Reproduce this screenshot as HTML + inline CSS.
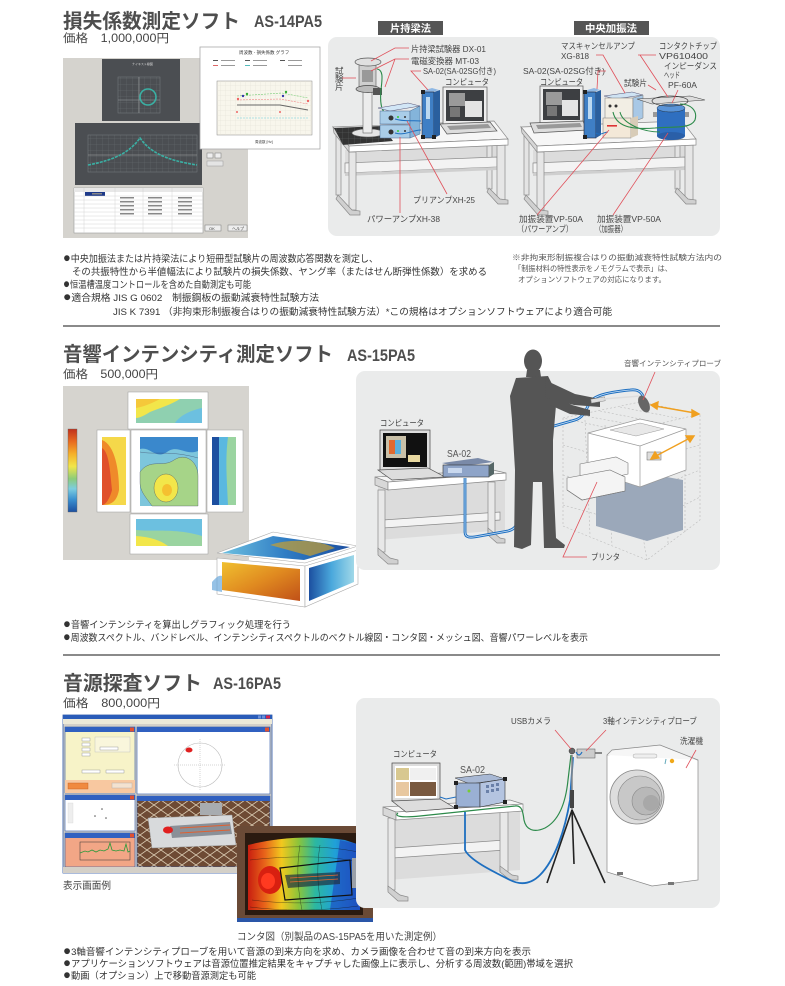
<!DOCTYPE html>
<html><head><meta charset="utf-8">
<style>
html,body{margin:0;padding:0;background:#fff;}
svg{display:block;}
text{font-family:"Liberation Sans","Noto Sans CJK JP",sans-serif;fill:#3a3a3a;}
.t{font-weight:bold;fill:#4e4e4e;font-size:20px;}
.m{font-family:"Liberation Sans Narrow","Liberation Sans",sans-serif;font-weight:bold;fill:#4e4e4e;font-size:17px;}
.p{font-size:11.5px;fill:#444;}
.b{font-size:9.5px;fill:#333;}
.bb{font-size:13.5px;}
.l{font-size:8.5px;fill:#444;}
.s{font-size:7.5px;fill:#555;}
.tab{font-size:10px;fill:#fff;font-weight:bold;}
.r{stroke:#e0505a;stroke-width:0.8;fill:none;}
.d{stroke:#8a8a8a;stroke-width:0.7;}
</style></head><body>
<svg width="785" height="986" viewBox="0 0 785 986" xmlns="http://www.w3.org/2000/svg">
<defs>
<linearGradient id="cb" x1="0" y1="0" x2="0" y2="1">
<stop offset="0" stop-color="#c0301c"/><stop offset=".15" stop-color="#e86a20"/><stop offset=".3" stop-color="#f5b02a"/><stop offset=".45" stop-color="#f2e64a"/><stop offset=".6" stop-color="#8ccc7a"/><stop offset=".72" stop-color="#7ccde0"/><stop offset=".85" stop-color="#3a90d0"/><stop offset="1" stop-color="#1c4fa0"/>
</linearGradient>
<linearGradient id="hb" x1="0" y1="0" x2="1" y2="0">
<stop offset="0" stop-color="#c81e10"/><stop offset=".15" stop-color="#e8641a"/><stop offset=".3" stop-color="#f2c81e"/><stop offset=".45" stop-color="#8cc43a"/><stop offset=".6" stop-color="#2cb8a0"/><stop offset=".78" stop-color="#20a0d8"/><stop offset="1" stop-color="#1e50c0"/>
</linearGradient>
<linearGradient id="ff" x1="0" y1="0" x2="1" y2="1">
<stop offset="0" stop-color="#f0c030"/><stop offset=".5" stop-color="#e08a20"/><stop offset="1" stop-color="#c05018"/>
</linearGradient>
<linearGradient id="tf" x1="0" y1="0" x2="1" y2="0">
<stop offset="0" stop-color="#6cc0e0"/><stop offset=".5" stop-color="#2f7cc4"/><stop offset="1" stop-color="#1c4fa0"/>
</linearGradient>
<linearGradient id="rf" x1="0" y1="0" x2="1" y2="0">
<stop offset="0" stop-color="#1c4fa0"/><stop offset=".5" stop-color="#4aa8dc"/><stop offset="1" stop-color="#a0d8e8"/>
</linearGradient>
<pattern id="gr" width="6" height="6" patternUnits="userSpaceOnUse"><path d="M6,0 L0,0 0,6" fill="none" stroke="#6a6d70" stroke-width="0.5"/></pattern>
<pattern id="gw" width="5" height="5" patternUnits="userSpaceOnUse"><path d="M5,0 L0,0 0,5" fill="none" stroke="#e2dfd2" stroke-width="0.5"/></pattern>
<pattern id="bp" width="14" height="10" patternUnits="userSpaceOnUse"><rect width="14" height="10" fill="#6e4a34"/><path d="M0,5 L7,0 L14,5 L7,10 Z" fill="none" stroke="#d8c8b0" stroke-width="0.8"/></pattern>
</defs>

<!-- ================= SECTION 1 ================= -->
<text class="t" x="63" y="28" textLength="177" lengthAdjust="spacingAndGlyphs">損失係数測定ソフト</text>
<text class="m" x="254" y="27" textLength="68" lengthAdjust="spacingAndGlyphs">AS-14PA5</text>
<text class="p" x="63" y="42" textLength="106" lengthAdjust="spacingAndGlyphs">価格　1,000,000円</text>

<!-- screenshot -->
<rect x="63" y="58" width="185" height="180" fill="#d5d3ce"/>
<rect x="102" y="59" width="78" height="62" fill="#4b4e52"/>
<rect x="118" y="77" width="42" height="36" fill="url(#gr)" stroke="#7a7d80" stroke-width="0.5"/>
<line x1="139" y1="77" x2="139" y2="113" stroke="#9a9da0" stroke-width="0.6"/>
<line x1="118" y1="100" x2="160" y2="100" stroke="#9a9da0" stroke-width="0.6"/>
<circle cx="148" cy="97" r="8" fill="none" stroke="#3ab0a4" stroke-width="1.6"/>
<text x="132" y="65" style="font-size:3px;fill:#ddd">ナイキスト線図</text>
<rect x="75" y="123" width="127" height="62" fill="#4b4e52"/>
<rect x="88" y="135" width="109" height="37" fill="url(#gr)" stroke="#7a7d80" stroke-width="0.5"/>
<line x1="88" y1="155" x2="197" y2="155" stroke="#aaa" stroke-width="0.6"/>
<path d="M88,165 C115,160 130,152 140,138 C150,152 165,160 197,165" fill="none" stroke="#3ab0a4" stroke-width="1.6" stroke-dasharray="3,1"/>
<rect x="74" y="188" width="129" height="45" fill="#fff" stroke="#999" stroke-width="0.6"/>
<rect x="74" y="188" width="129" height="4" fill="#e8e8e8"/>
<rect x="85" y="192" width="20" height="4" fill="#1e3a8a"/>
<g stroke="#ccc" stroke-width="0.4">
<line x1="74" y1="196" x2="203" y2="196"/><line x1="74" y1="200" x2="203" y2="200"/><line x1="74" y1="204" x2="203" y2="204"/><line x1="74" y1="208" x2="203" y2="208"/><line x1="74" y1="212" x2="203" y2="212"/><line x1="74" y1="216" x2="203" y2="216"/><line x1="74" y1="220" x2="203" y2="220"/><line x1="74" y1="224" x2="203" y2="224"/><line x1="74" y1="228" x2="203" y2="228"/>
<line x1="84" y1="188" x2="84" y2="233"/><line x1="115" y1="188" x2="115" y2="233"/><line x1="143" y1="188" x2="143" y2="233"/><line x1="172" y1="188" x2="172" y2="233"/>
</g>
<g fill="#888"><rect x="92" y="193" width="10" height="1.5"/><rect x="120" y="197" width="14" height="1.5"/><rect x="120" y="201" width="14" height="1.5"/><rect x="120" y="205" width="14" height="1.5"/><rect x="148" y="197" width="14" height="1.5"/><rect x="148" y="201" width="14" height="1.5"/><rect x="148" y="205" width="14" height="1.5"/><rect x="178" y="197" width="14" height="1.5"/><rect x="178" y="201" width="14" height="1.5"/><rect x="178" y="205" width="14" height="1.5"/><rect x="120" y="209" width="14" height="1.5"/><rect x="148" y="209" width="14" height="1.5"/><rect x="178" y="209" width="14" height="1.5"/><rect x="120" y="213" width="14" height="1.5"/><rect x="148" y="213" width="14" height="1.5"/><rect x="178" y="213" width="14" height="1.5"/></g>
<rect x="207" y="153" width="6" height="5" fill="#eee" stroke="#777" stroke-width="0.5"/><rect x="215" y="153" width="6" height="5" fill="#eee" stroke="#777" stroke-width="0.5"/>
<rect x="207" y="161" width="16" height="5" fill="#e4e4e4" stroke="#999" stroke-width="0.5"/>
<rect x="205" y="225" width="16" height="6" fill="#eee" stroke="#777" stroke-width="0.5"/><rect x="228" y="225" width="19" height="6" fill="#eee" stroke="#777" stroke-width="0.5"/>
<text x="209" y="230" style="font-size:4px">OK</text><text x="232" y="230" style="font-size:4px">ヘルプ</text>
<!-- graph overlay -->
<rect x="200" y="47" width="120" height="102" fill="#fff" stroke="#aaa" stroke-width="0.8"/>
<text x="239" y="54" style="font-size:4.5px;fill:#333">周波数 - 損失係数 グラフ</text>
<g fill="#555"><rect x="213" y="60" width="5" height="1"/><rect x="245" y="60" width="5" height="1"/><rect x="280" y="60" width="5" height="1"/><rect x="213" y="65" width="5" height="1" fill="#d66"/><rect x="245" y="65" width="5" height="1" fill="#5bb"/></g>
<g fill="#999"><rect x="221" y="60" width="14" height="1"/><rect x="221" y="65" width="14" height="1"/><rect x="253" y="60" width="14" height="1"/><rect x="253" y="65" width="14" height="1"/><rect x="288" y="60" width="14" height="1"/><rect x="288" y="65" width="14" height="1"/></g>
<rect x="217" y="81" width="95" height="54" fill="#f8f6ec" stroke="#888" stroke-width="0.5"/>
<rect x="217" y="81" width="95" height="54" fill="url(#gw)"/>
<path d="M237,105 L280,105 L308,110" fill="none" stroke="#666" stroke-width="1"/>
<path d="M237,100 L280,99 L308,104" fill="none" stroke="#e88" stroke-width="0.6" stroke-dasharray="2,1"/>
<path d="M237,96 L282,93 L308,98" fill="none" stroke="#7c7" stroke-width="0.6" stroke-dasharray="2,1"/>
<path d="M237,118 L308,118" fill="none" stroke="#6cd" stroke-width="0.6" stroke-dasharray="2,1"/>
<g><circle cx="243" cy="96" r="1.2" fill="#33a"/><circle cx="247" cy="94" r="1.2" fill="#3a3"/><circle cx="238" cy="99" r="1.2" fill="#e66"/><circle cx="283" cy="96" r="1.2" fill="#33a"/><circle cx="286" cy="92" r="1.2" fill="#3a3"/><circle cx="308" cy="101" r="1.2" fill="#e66"/><circle cx="237" cy="112" r="1" fill="#e66"/><circle cx="280" cy="112" r="1" fill="#e66"/></g>
<text x="255" y="143" style="font-size:3.5px">周波数 [Hz]</text>

<!-- diagram 1 -->
<rect x="328" y="37" width="392" height="199" rx="9" fill="#eaebeb"/>
<rect x="378" y="21" width="65" height="14" fill="#555"/>
<text class="tab" x="390" y="32" textLength="41" lengthAdjust="spacingAndGlyphs">片持梁法</text>
<rect x="574" y="21" width="75" height="14" fill="#555"/>
<text class="tab" x="585" y="32" textLength="52" lengthAdjust="spacingAndGlyphs">中央加振法</text>

<!-- desks -->
<g id="desk1">
<path d="M345,150 L500,144 L500,166 L345,172 Z" fill="#dcdcdc"/>
<rect x="336" y="133" width="5" height="62" fill="#e4e4e4" class="d"/>
<rect x="487" y="139" width="5" height="50" fill="#e4e4e4" class="d"/>
<path d="M345,163 L497,157 L497,167 L345,173 Z" fill="#f3f3f3" class="d"/>
<path d="M345,173 L497,167 L497,170 L345,176 Z" fill="#cfcfcf"/>
<rect x="349" y="152" width="7" height="58" fill="#e6e6e6" class="d"/>
<path d="M338,195 L352,210 L360,211 L360,215 L350,215 L336,199 Z" fill="#d0d0d0" class="d"/>
<rect x="497" y="145" width="8" height="55" fill="#e6e6e6" class="d"/>
<path d="M489,188 L500,199 L508,200 L508,204 L498,204 L487,192 Z" fill="#d0d0d0" class="d"/>
<path d="M333,127 L494,121 L508,139 L349,146 Z" fill="#f6f6f6" class="d"/>
<path d="M349,146 L508,139 L508,145 L349,152 Z" fill="#fff" class="d"/>
<path d="M333,127 L349,146 L349,152 L334,133 Z" fill="#d6d6d6" class="d"/>
</g>
<use href="#desk1" transform="translate(188,0)"/>

<!-- left devices -->
<path d="M334,128 L382,126 L393,141 L343,145 Z" fill="#333"/>
<path d="M334,128 L382,126 L393,141 L343,145 Z" fill="url(#gr)" opacity=".8"/>
<ellipse cx="368" cy="133" rx="16" ry="4" fill="#e4e4e4" stroke="#666" stroke-width="0.6"/>
<rect x="363" y="92" width="9" height="41" fill="#ececec" stroke="#666" stroke-width="0.6"/>
<rect x="359" y="63" width="17" height="28" fill="#cfcfcf" stroke="#555" stroke-width="0.6"/>
<rect x="362" y="70" width="11" height="12" fill="#999"/>
<ellipse cx="368" cy="62" rx="13" ry="4" fill="#e0e0e0" stroke="#555" stroke-width="0.7"/>
<ellipse cx="368" cy="89" rx="12" ry="3.5" fill="#bbb" stroke="#444" stroke-width="0.7"/>
<rect x="373" y="88" width="9" height="7" fill="#555"/>
<path d="M377,69 C384,70 382,80 381,90 C380,100 381,108 384,112" fill="none" stroke="#2c8a4a" stroke-width="1.1"/>
<!-- amps -->
<path d="M378,108 L408,103 L420,106 L390,111 Z" fill="#d2e6f6" stroke="#557" stroke-width="0.5"/>
<rect x="380" y="111" width="30" height="13" fill="#a9cde8" stroke="#4a6a90" stroke-width="0.5"/>
<rect x="380" y="125" width="30" height="13" fill="#a9cde8" stroke="#4a6a90" stroke-width="0.5"/>
<path d="M410,111 L420,106 L420,134 L410,138 Z" fill="#84b4da" stroke="#4a6a90" stroke-width="0.5"/>
<circle cx="391" cy="118" r="2.5" fill="#333"/><circle cx="391" cy="132" r="2.5" fill="#333"/>
<circle cx="398" cy="117" r="1" fill="#3c3"/><circle cx="398" cy="131" r="1" fill="#3c3"/>
<circle cx="405" cy="117" r="1" fill="#333"/><circle cx="405" cy="131" r="1" fill="#333"/>
<path d="M395,119 C405,122 412,120 421,121" fill="none" stroke="#1e6fc0" stroke-width="1"/>
<path d="M395,133 C405,136 412,130 421,130" fill="none" stroke="#1e6fc0" stroke-width="1"/>
<!-- SA-02 -->
<path d="M422,91 L432,88 L439,90 L429,93 Z" fill="#8fb8e4"/>
<rect x="422" y="92" width="12" height="46" fill="#3f7fc5" stroke="#223" stroke-width="0.6"/>
<path d="M434,92 L440,90 L440,135 L434,138 Z" fill="#2a5f9e"/>
<rect x="426" y="97" width="4" height="22" fill="#bcd8f0"/>
<rect x="421" y="90" width="4" height="4" fill="#222"/><rect x="421" y="135" width="4" height="4" fill="#222"/><rect x="432" y="135" width="4" height="4" fill="#222"/>
<!-- laptop left -->
<rect x="443" y="87" width="44" height="37" fill="#eee" stroke="#555" stroke-width="0.7"/>
<rect x="446" y="90" width="38" height="31" fill="#3d3f42"/>
<rect x="449" y="93" width="16" height="13" fill="#9a9a9a"/>
<rect x="450" y="107" width="10" height="10" fill="#777"/>
<rect x="465" y="101" width="17" height="16" fill="#e4e4e4"/>
<path d="M440,124 L490,122 L497,131 L447,134 Z" fill="#ddd" stroke="#555" stroke-width="0.7"/>
<path d="M447,126 L488,124 L491,128 L450,130 Z" fill="#999"/>

<!-- right devices -->
<rect x="540" y="86" width="43" height="37" fill="#eee" stroke="#555" stroke-width="0.7"/>
<rect x="543" y="89" width="37" height="31" fill="#3d3f42"/>
<rect x="546" y="92" width="16" height="13" fill="#9a9a9a"/>
<rect x="547" y="106" width="10" height="10" fill="#777"/>
<rect x="562" y="100" width="16" height="16" fill="#e4e4e4"/>
<path d="M530,123 L583,121 L587,130 L534,133 Z" fill="#ddd" stroke="#555" stroke-width="0.7"/>
<path d="M536,125 L580,123 L582,127 L538,129 Z" fill="#999"/>
<path d="M584,91 L594,88 L600,90 L590,93 Z" fill="#8fb8e4"/>
<rect x="584" y="92" width="12" height="46" fill="#3f7fc5" stroke="#223" stroke-width="0.6"/>
<path d="M596,92 L601,90 L601,135 L596,138 Z" fill="#2a5f9e"/>
<rect x="588" y="97" width="4" height="22" fill="#bcd8f0"/>
<rect x="583" y="90" width="4" height="4" fill="#222"/><rect x="583" y="135" width="4" height="4" fill="#222"/>
<path d="M604,96 L632,92 L643,95 L615,99 Z" fill="#cfe3f3" stroke="#557" stroke-width="0.5"/>
<rect x="605" y="98" width="28" height="24" fill="#f2eee4" stroke="#777" stroke-width="0.5"/>
<path d="M633,98 L643,95 L643,118 L633,122 Z" fill="#a8c8e6" stroke="#777" stroke-width="0.5"/>
<circle cx="610" cy="106" r="1.5" fill="#333"/><circle cx="616" cy="106" r="1.5" fill="#333"/>
<rect x="603" y="118" width="28" height="20" fill="#f3e8d8" stroke="#777" stroke-width="0.5"/>
<rect x="607" y="125" width="10" height="1.6" fill="#d33"/>
<path d="M631,118 L638,116 L638,135 L631,138 Z" fill="#d8ccb8"/>
<!-- exciter -->
<rect x="657" y="108" width="28" height="28" fill="#2f6fc0"/>
<ellipse cx="671" cy="136" rx="14" ry="4" fill="#2a5fa8"/>
<ellipse cx="671" cy="108" rx="14" ry="4" fill="#5a94d8" stroke="#234" stroke-width="0.5"/>
<rect x="653" y="112" width="4" height="5" fill="#999"/><rect x="685" y="112" width="4" height="5" fill="#999"/>
<path d="M637,99 L690,96 L705,100 L652,104 Z" fill="#ddd" stroke="#444" stroke-width="0.6"/>
<ellipse cx="670" cy="101" rx="18" ry="5" fill="none" stroke="#333" stroke-width="0.7"/>
<path d="M613,112 C616,126 630,130 655,128 C670,126 690,130 695,120 C698,110 690,104 680,104" fill="none" stroke="#2c8a4a" stroke-width="1.1"/>
<path d="M620,112 C622,122 640,132 660,132" fill="none" stroke="#2c8a4a" stroke-width="1"/>
<path d="M596,133 C600,136 604,132 608,132" fill="none" stroke="#1e6fc0" stroke-width="1"/>

<!-- labels diagram 1 -->
<text class="l" x="411" y="52" textLength="75" lengthAdjust="spacingAndGlyphs">片持梁試験器 DX-01</text>
<text class="l" x="411" y="64" textLength="68" lengthAdjust="spacingAndGlyphs">電磁変換器 MT-03</text>
<text class="l" x="423" y="74" textLength="73" lengthAdjust="spacingAndGlyphs">SA-02(SA-02SG付き)</text>
<text class="l" x="445" y="85" textLength="44" lengthAdjust="spacingAndGlyphs">コンピュータ</text>
<text class="l" x="335" y="74">試</text><text class="l" x="335" y="82">験</text><text class="l" x="335" y="90">片</text>
<text class="l" x="413" y="203" textLength="62" lengthAdjust="spacingAndGlyphs">プリアンプXH-25</text>
<text class="l" x="367" y="222" textLength="73" lengthAdjust="spacingAndGlyphs">パワーアンプXH-38</text>
<text class="l" x="561" y="49" textLength="74" lengthAdjust="spacingAndGlyphs">マスキャンセルアンプ</text>
<text class="l" x="561" y="59" textLength="28" lengthAdjust="spacingAndGlyphs">XG-818</text>
<text class="l" x="659" y="49" textLength="58" lengthAdjust="spacingAndGlyphs">コンタクトチップ</text>
<text class="l" x="659" y="59" textLength="49" lengthAdjust="spacingAndGlyphs">VP610400</text>
<text class="l" x="664" y="69" textLength="53" lengthAdjust="spacingAndGlyphs">インピーダンス</text>
<text class="l" x="664" y="78" textLength="16" lengthAdjust="spacingAndGlyphs">ヘッド</text>
<text class="l" x="668" y="88" textLength="29" lengthAdjust="spacingAndGlyphs">PF-60A</text>
<text class="l" x="523" y="74" textLength="82" lengthAdjust="spacingAndGlyphs">SA-02(SA-02SG付き)</text>
<text class="l" x="540" y="85" textLength="43" lengthAdjust="spacingAndGlyphs">コンピュータ</text>
<text class="l" x="624" y="86" textLength="23" lengthAdjust="spacingAndGlyphs">試験片</text>
<text class="l" x="519" y="222" textLength="64" lengthAdjust="spacingAndGlyphs">加振装置VP-50A</text>
<text class="l" x="517" y="232" textLength="56" lengthAdjust="spacingAndGlyphs">（パワーアンプ）</text>
<text class="l" x="597" y="222" textLength="64" lengthAdjust="spacingAndGlyphs">加振装置VP-50A</text>
<text class="l" x="595" y="232" textLength="32" lengthAdjust="spacingAndGlyphs">（加振器）</text>
<!-- leader lines 1 -->
<path class="r" d="M409,48 L395,48 L371,61"/>
<path class="r" d="M409,59 L395,59 L371,71 M395,59 L385,87"/>
<path class="r" d="M421,71 L411,71 L428,90"/>
<path class="r" d="M342,78 L356,78"/>
<path class="r" d="M447,194 L407,121"/>
<path class="r" d="M400,213 L400,137"/>
<path class="r" d="M596,55 L603,55 L625,93"/>
<path class="r" d="M638,55 L656,55 M640,55 L668,97"/>
<path class="r" d="M606,71 L598,71 L597,89"/>
<path class="r" d="M648,85 L656,90"/>
<path class="r" d="M678,90 L672,103"/>
<path class="r" d="M537,215 L609,130"/>
<path class="r" d="M613,215 L668,133"/>

<!-- bullets section 1 -->
<text class="b" x="63" y="262" textLength="315" lengthAdjust="spacingAndGlyphs"><tspan class="bb">●</tspan>中央加振法または片持梁法により短冊型試験片の周波数応答関数を測定し、</text>
<text class="b" x="72" y="275" textLength="415" lengthAdjust="spacingAndGlyphs">その共振特性から半値幅法により試験片の損失係数、ヤング率（またはせん断弾性係数）を求める</text>
<text class="b" x="63" y="288" textLength="188" lengthAdjust="spacingAndGlyphs"><tspan class="bb">●</tspan>恒温槽温度コントロールを含めた自動測定も可能</text>
<text class="b" x="63" y="301" textLength="256" lengthAdjust="spacingAndGlyphs"><tspan class="bb">●</tspan>適合規格 JIS G 0602　制振鋼板の振動減衰特性試験方法</text>
<text class="b" x="113" y="315" textLength="499" lengthAdjust="spacingAndGlyphs">JIS K 7391 （非拘束形制振複合はりの振動減衰特性試験方法）*この規格はオプションソフトウェアにより適合可能</text>
<text class="s" x="512" y="260" textLength="210" lengthAdjust="spacingAndGlyphs">※非拘束形制振複合はりの振動減衰特性試験方法内の</text>
<text class="s" x="514" y="271" textLength="158" lengthAdjust="spacingAndGlyphs">「制振材料の特性表示をノモグラムで表示」は、</text>
<text class="s" x="518" y="282" textLength="148" lengthAdjust="spacingAndGlyphs">オプションソフトウェアの対応になります。</text>

<rect x="63" y="325" width="657" height="2" fill="#8a8a8a"/>

<!-- ================= SECTION 2 ================= -->
<text class="t" x="63" y="361" textLength="270" lengthAdjust="spacingAndGlyphs">音響インテンシティ測定ソフト</text>
<text class="m" x="347" y="361" textLength="68" lengthAdjust="spacingAndGlyphs">AS-15PA5</text>
<text class="p" x="63" y="378" textLength="95" lengthAdjust="spacingAndGlyphs">価格　500,000円</text>

<!-- contour image -->
<rect x="63" y="386" width="186" height="174" fill="#d6d4cf"/>
<rect x="68" y="429" width="9" height="83" fill="url(#cb)" stroke="#666" stroke-width="0.4"/>
<rect x="128" y="392" width="80" height="37" fill="#fff" stroke="#999" stroke-width="0.5"/>
<rect x="97" y="430" width="33" height="82" fill="#fff" stroke="#999" stroke-width="0.5"/>
<rect x="131" y="430" width="75" height="83" fill="#fff" stroke="#999" stroke-width="0.5"/>
<rect x="207" y="430" width="36" height="82" fill="#fff" stroke="#999" stroke-width="0.5"/>
<rect x="130" y="514" width="78" height="40" fill="#fff" stroke="#999" stroke-width="0.5"/>
<rect x="136" y="399" width="66" height="24" fill="#8fd0b0"/>
<path d="M136,399 L180,399 C170,405 160,408 150,412 C145,415 140,418 136,418 Z" fill="#f2e64a"/>
<path d="M136,399 L160,399 C152,403 146,406 136,408 Z" fill="#f5c83a"/>
<path d="M175,423 C180,415 192,410 202,408 L202,423 Z" fill="#6cc0e0"/>
<rect x="140" y="437" width="58" height="69" fill="#7dc6dc"/>
<path d="M140,437 L198,437 L198,451 C185,456 178,444 167,452 C156,460 150,446 140,449 Z" fill="#3a88cc"/>
<path d="M140,472 C150,458 163,468 174,460 C186,452 198,462 198,476 L198,506 L152,506 C146,497 140,492 140,482 Z" fill="#a6d488" stroke="#335" stroke-width="0.3"/>
<ellipse cx="166" cy="488" rx="12" ry="14" fill="#f2e64a" stroke="#335" stroke-width="0.3"/>
<ellipse cx="167" cy="490" rx="5" ry="6" fill="#f5c030"/>
<path d="M140,452 C155,455 170,450 198,458" fill="none" stroke="#335" stroke-width="0.3"/>
<rect x="102" y="437" width="24" height="68" fill="#f5d84a"/>
<path d="M102,440 C115,445 119,470 119,490 C117,500 113,505 102,505 Z" fill="#ef8a2a"/>
<path d="M102,448 C109,452 110,470 112,490 C110,498 106,505 102,505 Z" fill="#e0502a"/>
<rect x="212" y="437" width="24" height="68" fill="#9ad4a0"/>
<rect x="212" y="437" width="7" height="68" fill="#1c4fa0"/>
<path d="M219,437 L228,437 C225,460 227,480 228,505 L219,505 Z" fill="#5ab8e0"/>
<rect x="136" y="519" width="66" height="27" fill="#6cc0e0"/>
<path d="M136,530 C155,532 175,528 202,536 L202,546 L136,546 Z" fill="#9ad4a0"/>
<path d="M136,536 C150,537 160,540 168,546 L136,546 Z" fill="#f2e64a"/>
<!-- 3D box -->
<path d="M217,553 L273,532 L358,546 L305,563 Z" fill="#fff" stroke="#aaa" stroke-width="0.6"/>
<path d="M222,553 L273,536 L350,547 L304,560 Z" fill="url(#tf)"/>
<path d="M270,545 C290,538 320,540 335,548 L310,556 Z" fill="#c8a030" opacity=".7"/>
<path d="M217,558 L305,566 L305,607 L217,594 Z" fill="#fff" stroke="#aaa" stroke-width="0.6"/>
<path d="M222,562 L300,569 L300,601 L222,590 Z" fill="url(#ff)"/>
<path d="M305,566 L358,550 L358,584 L305,607 Z" fill="#fff" stroke="#aaa" stroke-width="0.6"/>
<path d="M309,568 L354,555 L354,582 L309,601 Z" fill="url(#rf)"/>
<path d="M212,582 C216,578 218,575 222,576 L222,592 L212,590 Z" fill="#6aa8dc" opacity=".7"/>

<!-- diagram 2 -->
<rect x="356" y="371" width="364" height="199" rx="9" fill="#eaebeb"/>
<g fill="none" stroke="#bbb" stroke-width="0.6" stroke-dasharray="2,2">
<path d="M563,418 L640,402 L700,414 L625,432 Z"/>
<path d="M563,418 L563,526 L647,560 L700,520 L700,414"/>
<path d="M625,432 L647,560"/>
<path d="M580,415 L650,428 M600,411 L665,424 M620,407 L682,419"/>
<path d="M563,445 L630,465 L700,445 M563,475 L637,495 L700,470 M563,505 L642,527 L700,497"/>
<path d="M585,420 L590,535 M605,425 L612,545 M667,441 L668,545 M685,430 L685,532"/>
</g>
<path d="M596,482 L640,472 L683,480 L683,530 L647,541 L596,526 Z" fill="#9ba8ba"/>
<path d="M588,433 L640,419 L686,429 L686,470 L640,487 L588,470 Z" fill="#fff" stroke="#999" stroke-width="0.7"/>
<path d="M588,433 L640,446 L686,429" fill="none" stroke="#999" stroke-width="0.7"/>
<path d="M640,446 L640,487" fill="none" stroke="#999" stroke-width="0.7"/>
<path d="M610,430 L640,423 L664,429 L636,436 Z" fill="#e8e8e8" stroke="#999" stroke-width="0.5"/>
<rect x="647" y="452" width="14" height="8" fill="#ddd" stroke="#666" stroke-width="0.5"/>
<path d="M580,464 L616,457 L628,463 L628,474 L592,482 L580,475 Z" fill="#f4f4f4" stroke="#777" stroke-width="0.6"/>
<path d="M567,478 L610,470 L625,477 L625,491 L582,500 L567,490 Z" fill="#f4f4f4" stroke="#777" stroke-width="0.6"/>
<path d="M567,490 L582,500 L625,491" fill="none" stroke="#777" stroke-width="0.6"/>
<g stroke="#f0a020" stroke-width="1.4" fill="#f0a020">
<line x1="655" y1="406" x2="695" y2="413"/>
<path d="M651,405 L658,402 L657,409 Z"/><path d="M699,414 L692,410 L692,417 Z"/>
<line x1="654" y1="457" x2="690" y2="438"/>
<path d="M651,459 L655,452 L659,458 Z"/><path d="M694,436 L686,436 L690,442 Z"/>
</g>
<path d="M378,480 L505,473 L505,530 L378,540 Z" fill="#dcdcdc"/>
<path d="M383,520 L500,512 L500,520 L383,528 Z" fill="#f3f3f3" class="d"/>
<rect x="378" y="490" width="7" height="62" fill="#e8e8e8" class="d"/>
<path d="M378,548 L390,558 L398,560 L398,564 L388,564 L378,555 Z" fill="#d0d0d0" class="d"/>
<rect x="488" y="482" width="7" height="52" fill="#e8e8e8" class="d"/>
<path d="M488,528 L500,538 L505,539 L505,543 L497,543 L488,535 Z" fill="#d0d0d0" class="d"/>
<path d="M375,477 L493,470 L506,473 L388,482 Z" fill="#f6f6f6" class="d"/>
<path d="M375,477 L388,482 L388,490 L375,485 Z" fill="#d8d8d8" class="d"/>
<path d="M388,482 L506,473 L506,480 L388,490 Z" fill="#fff" class="d"/>
<rect x="380" y="430" width="50" height="40" fill="#ddd" stroke="#444" stroke-width="0.7"/>
<rect x="383" y="433" width="44" height="34" fill="#111"/>
<rect x="386" y="436" width="20" height="22" fill="#c9c0a8"/>
<rect x="389" y="440" width="6" height="14" fill="#e06a30"/><rect x="395" y="440" width="6" height="14" fill="#5ab0dc"/>
<rect x="408" y="455" width="12" height="7" fill="#e8d8a0"/>
<path d="M378,470 L428,468 L445,477 L392,480 Z" fill="#ddd" stroke="#555" stroke-width="0.7"/>
<path d="M442,463 L478,458 L493,462 L457,467 Z" fill="#7a8aa8"/>
<rect x="443" y="465" width="46" height="12" fill="#8ea4c8" stroke="#333" stroke-width="0.6"/>
<rect x="448" y="468" width="14" height="5" fill="#c9d8ee"/>
<path d="M489,465 L494,462 L494,474 L489,477 Z" fill="#566"/>
<path d="M465,478 L465,532 C465,538 470,538 480,536 L508,531 C516,529 518,524 518,515 L518,446 C518,436 525,432 540,430 L575,420 C583,418 586,410 590,402 C595,395 610,392 630,390 C638,389 641,392 643,396" fill="none" stroke="#1e6fc0" stroke-width="2.8"/>
<path d="M465,478 L465,532 C465,538 470,538 480,536 L508,531 C516,529 518,524 518,515 L518,446 C518,436 525,432 540,430 L575,420 C583,418 586,410 590,402 C595,395 610,392 630,390 C638,389 641,392 643,396" fill="none" stroke="#cfe4f8" stroke-width="0.8"/>
<g fill="#555">
<ellipse cx="533" cy="361" rx="9" ry="11.5"/>
<path d="M527,370 L540,370 L541,377 L526,377 Z"/>
<path d="M516,378 L548,376 L557,394 L553,440 L553,470 L556,538 L565,545 L564,548 L544,548 L542,482 L533,482 L531,545 L522,549 L514,547 L515,470 L512,420 L510,396 Z"/>
<path d="M545,380 L575,394 L600,399 L600,407 L574,405 L546,398 Z"/>
<path d="M550,394 L572,405 L590,410 L590,416 L570,414 L550,405 Z"/>
</g>
<rect x="591" y="398" width="14" height="4" fill="#ddd" stroke="#777" stroke-width="0.4" transform="rotate(-10 598 400)"/>
<line x1="603" y1="399" x2="640" y2="396" stroke="#ddd" stroke-width="1.5"/>
<ellipse cx="644" cy="404" rx="5" ry="9" fill="#666" transform="rotate(-25 644 404)"/>
<text class="s" x="624" y="366" textLength="97" lengthAdjust="spacingAndGlyphs">音響インテンシティプローブ</text>
<path class="r" d="M655,372 L643,400"/>
<text class="l" x="380" y="426" textLength="44" lengthAdjust="spacingAndGlyphs">コンピュータ</text>
<text x="447" y="457" style="font-size:10px;fill:#555" textLength="24" lengthAdjust="spacingAndGlyphs">SA-02</text>
<path class="r" d="M597,482 L563,557 L587,557"/>
<text class="l" x="591" y="560" textLength="29" lengthAdjust="spacingAndGlyphs">プリンタ</text>

<text class="b" x="63" y="628" textLength="228" lengthAdjust="spacingAndGlyphs"><tspan class="bb">●</tspan>音響インテンシティを算出しグラフィック処理を行う</text>
<text class="b" x="63" y="641" textLength="525" lengthAdjust="spacingAndGlyphs"><tspan class="bb">●</tspan>周波数スペクトル、バンドレベル、インテンシティスペクトルのベクトル線図・コンタ図・メッシュ図、音響パワーレベルを表示</text>

<rect x="63" y="654" width="657" height="2" fill="#8a8a8a"/>

<!-- ================= SECTION 3 ================= -->
<text class="t" x="63" y="690" textLength="139" lengthAdjust="spacingAndGlyphs">音源探査ソフト</text>
<text class="m" x="213" y="689" textLength="68" lengthAdjust="spacingAndGlyphs">AS-16PA5</text>
<text class="p" x="63" y="707" textLength="97" lengthAdjust="spacingAndGlyphs">価格　800,000円</text>

<rect x="63" y="715" width="209" height="158" fill="#d4d0c8" stroke="#2a56a8" stroke-width="0.8"/>
<rect x="63" y="715" width="209" height="4" fill="#2a5cb8"/>
<rect x="258" y="715.5" width="3" height="3" fill="#6a90d8"/><rect x="262" y="715.5" width="3" height="3" fill="#6a90d8"/><rect x="266" y="715.5" width="4" height="3" fill="#d24"/>
<rect x="63" y="719" width="209" height="5" fill="#ece9d8"/>
<rect x="65" y="727" width="70" height="66" fill="#f7f3c8" stroke="#2a56a8" stroke-width="0.6"/>
<rect x="65" y="727" width="70" height="5" fill="#3060c0"/>
<rect x="130" y="727.5" width="4" height="4" fill="#e05030"/>
<rect x="95" y="737" width="35" height="15" fill="#f9f6dc" stroke="#bbb" stroke-width="0.4"/>
<g fill="#fff" stroke="#888" stroke-width="0.4"><rect x="82" y="738" width="8" height="3"/><rect x="82" y="743" width="8" height="3"/><rect x="82" y="748" width="8" height="3"/><rect x="82" y="753" width="8" height="3"/><rect x="100" y="747" width="18" height="3"/><rect x="82" y="770" width="18" height="3"/><rect x="106" y="770" width="18" height="3"/></g>
<rect x="65" y="780" width="70" height="13" fill="#f8c8a0"/>
<rect x="68" y="783" width="20" height="6" fill="#f08a40" stroke="#c05a20" stroke-width="0.4"/>
<rect x="112" y="783" width="20" height="5" fill="#f3e2d0" stroke="#aaa" stroke-width="0.4"/>
<rect x="65" y="795" width="70" height="36" fill="#fff" stroke="#2a56a8" stroke-width="0.6"/>
<rect x="65" y="795" width="70" height="5" fill="#3060c0"/>
<rect x="130" y="795.5" width="4" height="4" fill="#e05030"/>
<rect x="68" y="803" width="5" height="20" fill="#eee" stroke="#ccc" stroke-width="0.3"/>
<circle cx="102" cy="809" r="0.8" fill="#555"/><circle cx="95" cy="816" r="0.8" fill="#555"/><circle cx="106" cy="818" r="0.8" fill="#555"/>
<rect x="65" y="833" width="70" height="34" fill="#f2a686" stroke="#2a56a8" stroke-width="0.6"/>
<rect x="65" y="833" width="70" height="5" fill="#3060c0"/>
<rect x="130" y="833.5" width="4" height="4" fill="#e05030"/>
<rect x="80" y="842" width="50" height="18" fill="none" stroke="#333" stroke-width="0.5"/>
<path d="M80,853 L85,851 L88,852 L92,850 L96,852 L100,850 L104,851 L108,849 L110,843 L112,850 L116,851 L120,850 L124,851 L126,844 L128,852 L130,851" fill="none" stroke="#2a9a3a" stroke-width="0.8"/>
<rect x="137" y="727" width="133" height="67" fill="#fff" stroke="#2a56a8" stroke-width="0.6"/>
<rect x="137" y="727" width="133" height="5" fill="#3060c0"/>
<rect x="265" y="727.5" width="4" height="4" fill="#e05030"/>
<circle cx="200" cy="765" r="22" fill="none" stroke="#bbb" stroke-width="0.6"/>
<line x1="174" y1="765" x2="226" y2="765" stroke="#aaa" stroke-width="0.5" stroke-dasharray="1,1"/>
<line x1="200" y1="739" x2="200" y2="791" stroke="#aaa" stroke-width="0.5" stroke-dasharray="1,1"/>
<ellipse cx="189" cy="750" rx="3.5" ry="2.5" fill="#e02020"/>
<rect x="137" y="796" width="133" height="71" fill="url(#bp)" stroke="#2a56a8" stroke-width="0.6"/>
<rect x="137" y="796" width="133" height="5" fill="#3060c0"/>
<rect x="200" y="803" width="22" height="12" fill="#a8acb0"/>
<path d="M148,818 L232,815 L236,845 L152,848 Z" fill="#d8dadc" stroke="#999" stroke-width="0.5"/>
<path d="M170,826 L230,822 L232,834 L172,838 Z" fill="#8a9098"/>
<path d="M180,828 L230,825 M180,833 L230,830" stroke="#e06030" stroke-width="1"/>
<ellipse cx="168" cy="830" rx="5" ry="3.5" fill="#e02020"/>
<rect x="63" y="867" width="209" height="6" fill="#d4d0c8"/>

<rect x="237" y="826" width="136" height="96" fill="#6a4a36"/>
<rect x="237" y="918" width="136" height="4" fill="#2a56a8"/>
<rect x="245" y="833" width="118" height="82" fill="#2a1a10"/>
<path d="M248,845 C275,838 310,835 345,840 L360,845 L360,910 L248,910 Z" fill="url(#hb)"/>
<path d="M340,840 L360,845 L360,910 L330,910 Z" fill="#1e50c0" opacity=".7"/>
<ellipse cx="270" cy="880" rx="12" ry="14" fill="#d82010"/>
<ellipse cx="268" cy="881" rx="7" ry="8" fill="#ff3a20"/>
<path d="M280,868 L350,860 L352,895 L285,900 Z" fill="none" stroke="#111" stroke-width="1.2"/>
<path d="M285,875 L340,872 L340,884 L288,888 Z" fill="#203040" opacity=".7"/>
<path d="M290,878 L338,875 M290,882 L338,879" stroke="#e86a30" stroke-width="0.8"/>
<g fill="none" stroke="#101010" stroke-width="0.5" opacity=".6">
<path d="M250,850 C290,845 330,846 358,852"/><path d="M250,860 C285,856 330,855 358,862"/><path d="M252,900 C290,905 330,903 358,898"/><path d="M250,907 C290,912 330,910 358,906"/>
<path d="M300,845 C296,870 298,890 302,910"/><path d="M320,845 C316,870 318,890 322,910"/>
</g>
<rect x="352" y="858" width="10" height="30" fill="#9aa0a8"/>

<text class="l" x="63" y="889" style="font-size:10px" textLength="48" lengthAdjust="spacingAndGlyphs">表示画面例</text>
<text class="l" x="237" y="940" style="font-size:10px" textLength="205" lengthAdjust="spacingAndGlyphs">コンタ図（別製品のAS-15PA5を用いた測定例）</text>

<rect x="356" y="698" width="364" height="210" rx="9" fill="#eaebeb"/>
<path d="M388,812 L520,803 L520,870 L388,880 Z" fill="#dcdcdc"/>
<path d="M393,848 L505,840 L505,850 L393,858 Z" fill="#f3f3f3" class="d"/>
<rect x="388" y="818" width="7" height="72" fill="#e8e8e8" class="d"/>
<path d="M388,886 L400,895 L408,897 L408,901 L398,901 L388,892 Z" fill="#d0d0d0" class="d"/>
<rect x="500" y="810" width="8" height="62" fill="#e8e8e8" class="d"/>
<path d="M500,866 L512,875 L518,876 L518,880 L510,880 L500,872 Z" fill="#d0d0d0" class="d"/>
<path d="M383,807 L510,800 L523,804 L396,812 Z" fill="#f6f6f6" class="d"/>
<path d="M383,807 L396,812 L396,820 L383,815 Z" fill="#d8d8d8" class="d"/>
<path d="M396,812 L523,804 L523,811 L396,820 Z" fill="#fff" class="d"/>
<rect x="392" y="763" width="48" height="38" fill="#ddd" stroke="#444" stroke-width="0.7"/>
<rect x="395" y="766" width="42" height="32" fill="#fff"/>
<rect x="396" y="768" width="13" height="12" fill="#d8c890"/><rect x="410" y="768" width="26" height="12" fill="#f0f0f0"/>
<rect x="396" y="782" width="13" height="14" fill="#e8c8a0"/><rect x="410" y="782" width="26" height="14" fill="#7a5a40"/>
<path d="M392,801 L440,799 L455,808 L406,812 Z" fill="#ddd" stroke="#555" stroke-width="0.7"/>
<path d="M455,778 L490,774 L505,779 L470,784 Z" fill="#a8b8d4" stroke="#333" stroke-width="0.5"/>
<rect x="456" y="783" width="24" height="24" fill="#9ab0d4" stroke="#333" stroke-width="0.6"/>
<path d="M480,783 L505,779 L505,802 L480,807 Z" fill="#b4c4e0" stroke="#333" stroke-width="0.6"/>
<circle cx="469" cy="791" r="1.5" fill="#7c3"/>
<g fill="#6a80a8"><rect x="486" y="785" width="3" height="3"/><rect x="491" y="784" width="3" height="3"/><rect x="496" y="783" width="3" height="3"/><rect x="486" y="790" width="3" height="3"/><rect x="491" y="789" width="3" height="3"/><rect x="496" y="788" width="3" height="3"/></g>
<rect x="454" y="781" width="4" height="4" fill="#222"/><rect x="454" y="805" width="4" height="4" fill="#222"/><rect x="503" y="777" width="4" height="4" fill="#222"/><rect x="503" y="800" width="4" height="4" fill="#222"/>
<path d="M398,813 C394,816 400,818 420,816 L515,806 C522,805 523,812 524,820 C526,830 534,833 545,828 C560,820 566,800 568,780 L571,755" fill="none" stroke="#2c8a4a" stroke-width="1.2"/>
<path d="M465,812 L465,850 C470,860 490,870 510,880 C520,885 530,885 540,875 C555,860 565,830 570,800 L573,757" fill="none" stroke="#1e6fc0" stroke-width="1.8"/>
<path d="M456,797 L446,799 L440,797" fill="none" stroke="#1e6fc0" stroke-width="1"/>
<line x1="572" y1="755" x2="572" y2="812" stroke="#888" stroke-width="1.5"/>
<rect x="570" y="790" width="4" height="18" fill="#444"/>
<g stroke="#222" stroke-width="1.6">
<line x1="572" y1="810" x2="547" y2="883"/>
<line x1="572" y1="810" x2="605" y2="883"/>
<line x1="572" y1="810" x2="574" y2="864"/>
</g>
<circle cx="572" cy="751" r="3" fill="#666" stroke="#333" stroke-width="0.5"/>
<rect x="577" y="749" width="18" height="9" fill="#ccc" stroke="#555" stroke-width="0.5"/>
<path d="M576,752 C578,756 580,756 582,752" fill="none" stroke="#1e6fc0" stroke-width="1.2"/>
<line x1="595" y1="753" x2="602" y2="753" stroke="#666" stroke-width="1.5"/>
<path d="M607,755 L650,750 L698,760 L698,880 L652,886 L607,872 Z" fill="#fff" stroke="#888" stroke-width="0.7"/>
<path d="M607,755 L612,750 L660,745 L698,760" fill="#f6f6f6" stroke="#888" stroke-width="0.7"/>
<rect x="633" y="754" width="24" height="4" rx="2" fill="#eee" stroke="#999" stroke-width="0.4"/>
<circle cx="672" cy="761" r="2.2" fill="#f0a818"/>
<line x1="666" y1="759" x2="665" y2="764" stroke="#6ab" stroke-width="1"/>
<circle cx="637" cy="797" r="27" fill="#ddd" stroke="#888" stroke-width="0.8"/>
<circle cx="640" cy="798" r="22" fill="#c8c8c8" stroke="#888" stroke-width="0.6"/>
<circle cx="646" cy="801" r="14" fill="#b8b8b8" stroke="#888" stroke-width="0.6"/>
<circle cx="651" cy="803" r="8" fill="#a8a8a8"/>
<rect x="617" y="872" width="6" height="3" fill="#777"/><rect x="668" y="882" width="6" height="3" fill="#777"/>
<text class="l" x="511" y="724" textLength="40" lengthAdjust="spacingAndGlyphs">USBカメラ</text>
<text class="l" x="603" y="724" textLength="94" lengthAdjust="spacingAndGlyphs">3軸インテンシティプローブ</text>
<text class="l" x="680" y="744" textLength="23" lengthAdjust="spacingAndGlyphs">洗濯機</text>
<text class="l" x="393" y="757" textLength="44" lengthAdjust="spacingAndGlyphs">コンピュータ</text>
<text x="460" y="773" style="font-size:10px;fill:#555" textLength="25" lengthAdjust="spacingAndGlyphs">SA-02</text>
<path class="r" d="M555,730 L571,749"/>
<path class="r" d="M606,730 L586,751"/>
<path class="r" d="M696,750 L686,768"/>

<text class="b" x="63" y="955" textLength="468" lengthAdjust="spacingAndGlyphs"><tspan class="bb">●</tspan>3軸音響インテンシティプローブを用いて音源の到来方向を求め、カメラ画像を合わせて音の到来方向を表示</text>
<text class="b" x="63" y="967" textLength="510" lengthAdjust="spacingAndGlyphs"><tspan class="bb">●</tspan>アプリケーションソフトウェアは音源位置推定結果をキャプチャした画像上に表示し、分析する周波数(範囲)帯域を選択</text>
<text class="b" x="63" y="979" textLength="193" lengthAdjust="spacingAndGlyphs"><tspan class="bb">●</tspan>動画（オプション）上で移動音源測定も可能</text>
</svg>
</body></html>
